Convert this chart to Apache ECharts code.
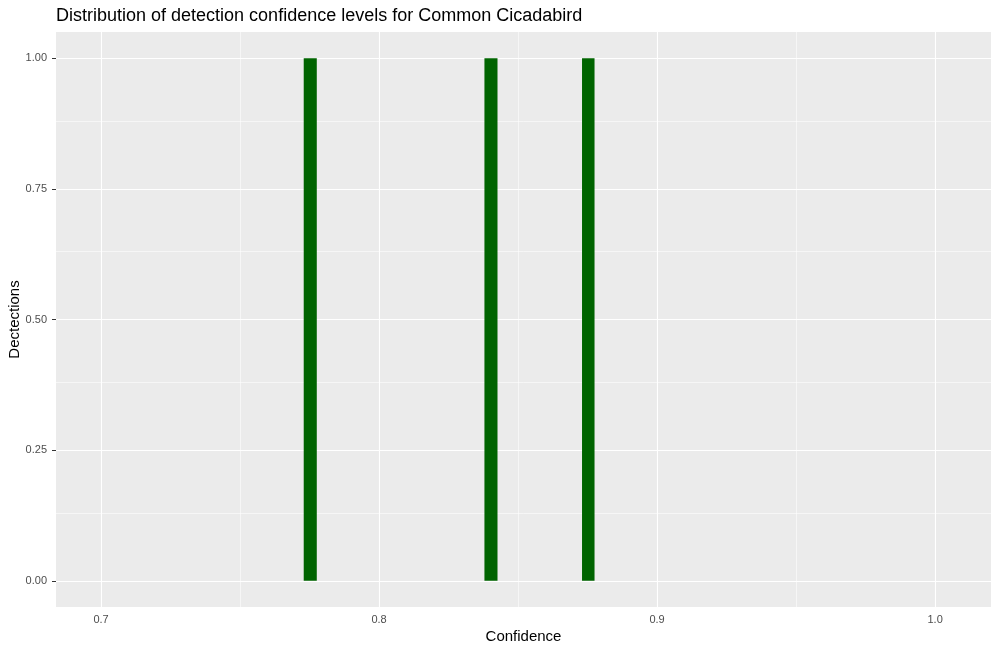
<!DOCTYPE html>
<html><head><meta charset="utf-8">
<script src="https://cdn.jsdelivr.net/npm/echarts@6/dist/echarts.min.js"></script>
<style>html,body{margin:0;padding:0;background:#fff}#c{width:1000px;height:651px}</style>
</head><body><div id="c"></div>
<script>
const binLow = [0.7729, 0.8379, 0.8730];
const binHigh = [0.7776, 0.8426, 0.8775];
const counts = [1, 1, 1];
const xTicks = [0.7, 0.8, 0.9, 1.0];
const xTickLabels = ['0.7', '0.8', '0.9', '1.0'];
const xMinor = [0.75, 0.85, 0.95];
const yTicks = [0, 0.25, 0.5, 0.75, 1.0];
const yTickLabels = ['0.00', '0.25', '0.50', '0.75', '1.00'];
const yMinor = [0.125, 0.375, 0.625, 0.875];

const chart = echarts.init(document.getElementById('c'), null, {renderer: 'canvas'});
const font = 'Liberation Sans, Arial, sans-serif';
const xMin = 0.6838, xMax = 1.0201, yMin = -0.05, yMax = 1.05;

function gridLines(vals, axis, width) {
  return vals.map(v => ({[axis]: v, lineStyle: {color: '#ffffff', width: width, type: 'solid'}}));
}

const option = {
  animation: false,
  backgroundColor: '#ffffff',
  title: {
    text: 'Distribution of detection confidence levels for Common Cicadabird',
    left: 56, top: 7, padding: 0,
    textStyle: {fontFamily: font, fontSize: 18, fontWeight: 'normal', color: '#000'}
  },
  grid: {left: 56, right: 9, top: 32, bottom: 44, show: true, backgroundColor: '#EBEBEB', borderWidth: 0,
    containLabel: false, outerBoundsMode: 'none'},
  xAxis: {
    type: 'value', min: xMin, max: xMax,
    name: 'Confidence', nameLocation: 'middle', nameGap: 22, nameMoveOverlap: false,
    nameTextStyle: {fontFamily: font, fontSize: 15, color: '#000'},
    axisLine: {show: false},
    axisTick: {show: true, length: 4, lineStyle: {color: '#333', width: 1}, customValues: xTicks},
    axisLabel: {customValues: xTicks, formatter: v => xTickLabels[xTicks.findIndex(t => Math.abs(t - v) < 1e-9)] ?? '',
      fontFamily: font, fontSize: 11, color: '#4d4d4d', margin: 7},
    splitLine: {show: false}
  },
  yAxis: {
    type: 'value', min: yMin, max: yMax,
    name: 'Dectections', nameLocation: 'middle', nameGap: 34, nameRotate: 90, nameMoveOverlap: false,
    nameTextStyle: {fontFamily: font, fontSize: 15, color: '#000'},
    axisLine: {show: false},
    axisTick: {show: true, length: 4, lineStyle: {color: '#333', width: 1}, customValues: yTicks},
    axisLabel: {customValues: yTicks, formatter: v => yTickLabels[yTicks.findIndex(t => Math.abs(t - v) < 1e-9)] ?? '',
      fontFamily: font, fontSize: 11, color: '#4d4d4d', margin: 9},
    splitLine: {show: false}
  },
  series: [
    {
      type: 'line', data: [], silent: true,
      markLine: {
        silent: true, symbol: 'none', label: {show: false}, animation: false,
        data: [].concat(
          gridLines(xMinor, 'xAxis', 0.55),
          gridLines(yMinor, 'yAxis', 0.55),
          gridLines(xTicks, 'xAxis', 1.1),
          gridLines(yTicks, 'yAxis', 1.1)
        )
      },
      z: 1
    },
    {
      type: 'custom', z: 5,
      data: binLow.map((lo, i) => [lo, binHigh[i], counts[i]]),
      renderItem: function (params, api) {
        const p0 = api.coord([api.value(0), api.value(2)]);
        const p1 = api.coord([api.value(1), 0]);
        return {type: 'rect', shape: {x: p0[0], y: p0[1], width: p1[0] - p0[0], height: p1[1] - p0[1]},
          style: {fill: '#006400'}};
      }
    }
  ]
};
chart.setOption(option);
</script></body></html>
